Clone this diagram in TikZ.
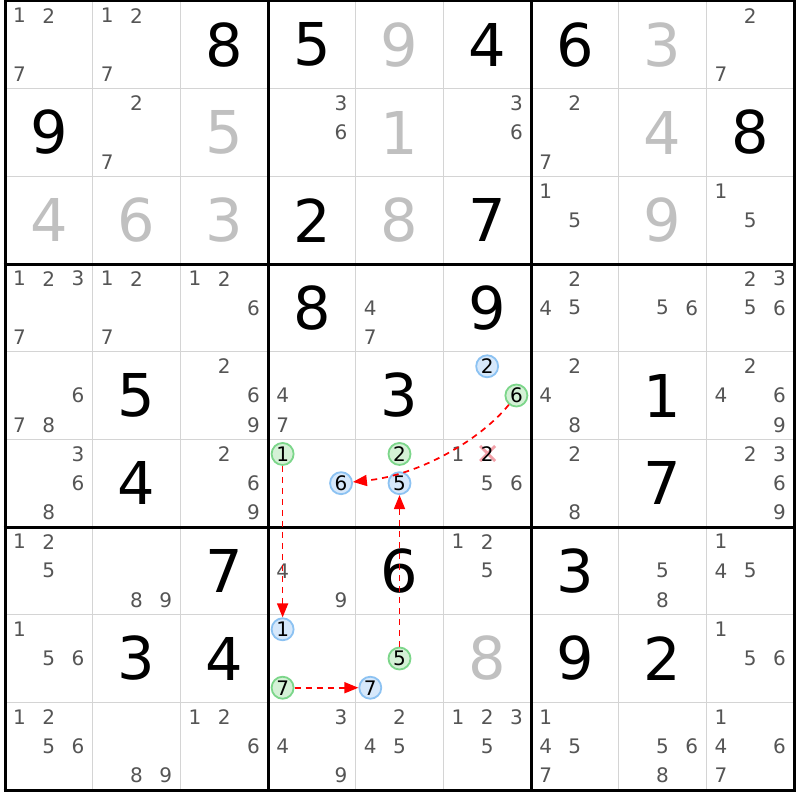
\documentclass[tikz,border=0pt]{standalone}
\usepackage{fontspec}
\setmainfont{DejaVu Sans}
\usetikzlibrary{arrows.meta}
\definecolor{candgrey}{HTML}{555555}
\definecolor{solvedgrey}{HTML}{C0C0C0}
\definecolor{gridgrey}{HTML}{D4D4D4}
\definecolor{cblue}{HTML}{8CC2F2}
\definecolor{cbluefill}{HTML}{D6E8FB}
\definecolor{cgreen}{HTML}{7CD68A}
\definecolor{cgreenfill}{HTML}{D4F1D6}
\definecolor{xpink}{HTML}{F2A0A8}
\definecolor{linkred}{HTML}{FF0000}
\def\cs{87.667}
\def\ox{5}
\def\oy{1}
\newcommand\cnode[5]{%
  \pgfmathsetmacro\cx{\ox+(#3-1)*\cs+(mod(#4-1,3)+0.5)*\cs/3}%
  \pgfmathsetmacro\cy{\oy+(#2-1)*\cs+(floor((#4-1)/3)+0.5)*\cs/3}%
  \node[#1] (#5) at (\cx,\cy) {#4};}
\begin{document}
\begin{tikzpicture}[x=1pt,y=-1pt,
  given/.style={font=\fontsize{59}{59}\selectfont, text=black, inner sep=0pt},
  solved/.style={font=\fontsize{59}{59}\selectfont, text=solvedgrey, inner sep=0pt},
  cand/.style={font=\fontsize{20}{20}\selectfont, text=candgrey, inner sep=0pt},
  bluec/.style={circle, draw=cblue, fill=cbluefill, line width=1.8pt, minimum size=22pt, inner sep=0pt, font=\fontsize{20}{20}\selectfont, text=black},
  greenc/.style={circle, draw=cgreen, fill=cgreenfill, line width=1.8pt, minimum size=22pt, inner sep=0pt, font=\fontsize{20}{20}\selectfont, text=black},
  elim/.style={inner sep=0pt, font=\fontsize{20}{20}\selectfont, text=black},
  link/.style={draw=linkred, dash pattern=on 6pt off 5pt, line width=1.7pt, -{Triangle[length=14pt,width=11pt]}},
  thinline/.style={draw=gridgrey, line width=1.6pt},
  thickline/.style={draw=black, line width=3pt}]
\fill[white] (0,0) rectangle (800,800);
\useasboundingbox (0,0) rectangle (800,800);
% thin grid
\foreach \i in {1,2,4,5,7,8}{
  \draw[thinline] ({\ox+\i*\cs},\oy) -- ({\ox+\i*\cs},{\oy+9*\cs});
  \draw[thinline] (\ox,{\oy+\i*\cs}) -- ({\ox+9*\cs},{\oy+\i*\cs});
}
% thick grid
\foreach \i in {0,3,6,9}{
  \draw[thickline] ({\ox+\i*\cs},{\oy-1.5}) -- ({\ox+\i*\cs},{\oy+9*\cs+1.5});
  \draw[thickline] ({\ox-1.5},{\oy+\i*\cs}) -- ({\ox+9*\cs+1.5},{\oy+\i*\cs});
}
% given digits
\foreach \r/\c/\d in {1/3/8,1/4/5,1/6/4,1/7/6,2/1/9,2/9/8,3/4/2,3/6/7,4/4/8,4/6/9,5/2/5,5/5/3,5/8/1,6/2/4,6/8/7,7/3/7,7/5/6,7/7/3,8/2/3,8/3/4,8/7/9,8/8/2}{
  \node[given] (g\r\c) at ({\ox+(\c-0.5)*\cs},{\oy+(\r-0.5)*\cs}) {\d};
}
% solved digits
\foreach \r/\c/\d in {1/5/9,1/8/3,2/3/5,2/5/1,2/8/4,3/1/4,3/2/6,3/3/3,3/5/8,3/8/9,8/6/8}{
  \node[solved] (s\r\c) at ({\ox+(\c-0.5)*\cs},{\oy+(\r-0.5)*\cs}) {\d};
}
% candidates
\foreach \r/\c/\L in {1/1/{1,2,7},1/2/{1,2,7},1/9/{2,7},
  2/2/{2,7},2/4/{3,6},2/6/{3,6},2/7/{2,7},
  3/7/{1,5},3/9/{1,5},
  4/1/{1,2,3,7},4/2/{1,2,7},4/3/{1,2,6},4/5/{4,7},4/7/{2,4,5},4/8/{5,6},4/9/{2,3,5,6},
  5/1/{6,7,8},5/3/{2,6,9},5/4/{4,7},5/7/{2,4,8},5/9/{2,4,6,9},
  6/1/{3,6,8},6/3/{2,6,9},6/6/{1,5,6},6/7/{2,8},6/9/{2,3,6,9},
  7/1/{1,2,5},7/2/{8,9},7/4/{4,9},7/6/{1,2,5},7/8/{5,8},7/9/{1,4,5},
  8/1/{1,5,6},8/9/{1,5,6},
  9/1/{1,2,5,6},9/2/{8,9},9/3/{1,2,6},9/4/{3,4,9},9/5/{2,4,5},9/6/{1,2,3,5},9/7/{1,4,5,7},9/8/{5,6,8},9/9/{1,4,6,7}}{
  \foreach \d in \L {
    \cnode{cand}{\r}{\c}{\d}{c\r\c\d}
  }
}
% eliminated candidate
\pgfmathsetmacro\ex{\ox+5*\cs+1.5*\cs/3}
\pgfmathsetmacro\ey{\oy+5*\cs+0.5*\cs/3}
\coordinate (xa) at ({\ex-7},{\ey-8});
\coordinate (xb) at ({\ex+8},{\ey+7});
\coordinate (xc) at ({\ex-7},{\ey+7});
\coordinate (xd) at ({\ex+8},{\ey-8});
\draw[xpink, line width=2.8pt] (xa) -- (xb) (xc) -- (xd);
\cnode{elim}{6}{6}{2}{e662}
% circled candidates
\cnode{bluec}{5}{6}{2}{bA}
\cnode{greenc}{5}{6}{6}{gA}
\cnode{greenc}{6}{4}{1}{gB}
\cnode{bluec}{6}{4}{6}{bB}
\cnode{greenc}{6}{5}{2}{gC}
\cnode{bluec}{6}{5}{5}{bC}
\cnode{bluec}{8}{4}{1}{bD}
\cnode{greenc}{8}{4}{7}{gD}
\cnode{greenc}{8}{5}{5}{gE}
\cnode{bluec}{8}{5}{7}{bE}
% links
\draw[link] (gB) -- (bD);
\draw[link] (gD) -- (bE);
\draw[link] (gE) -- (bC);
\draw[link] (gA) .. controls (480,440) and (420,475) .. (bB);
\end{tikzpicture}
\end{document}
